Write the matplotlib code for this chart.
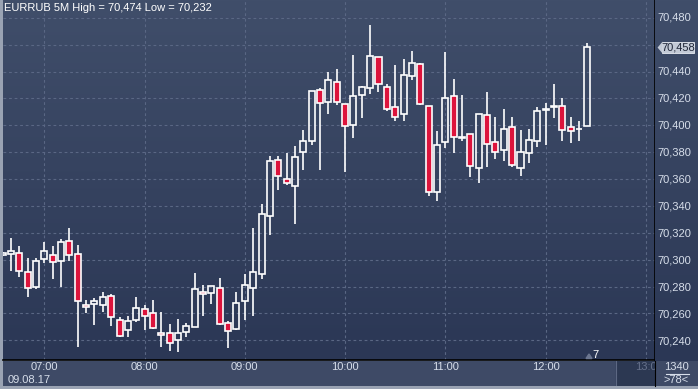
"""
EURRUB 5M candlestick chart, dark terminal style.
"""
import numpy as np
import matplotlib
matplotlib.use("Agg")
import matplotlib.pyplot as plt
from matplotlib.patches import Rectangle, Polygon

plt.rcParams["font.family"] = ["Liberation Sans", "DejaVu Sans"]

# ---------- Data (5 minute candles, 06:35 .. 12:25) ----------
opens = [70.3035, 70.3041, 70.3048, 70.2907, 70.2799, 70.3003, 70.3033, 70.2989, 70.3138, 70.3041,
         70.2665, 70.2668, 70.2665, 70.2728, 70.2549, 70.2479, 70.2549, 70.2631, 70.2601, 70.2452,
         70.2457, 70.2400, 70.2460, 70.2497, 70.2758, 70.2750, 70.2787, 70.2527, 70.2486, 70.2691,
         70.2787, 70.2892, 70.3324, 70.3741, 70.3599, 70.3552, 70.3798, 70.3887, 70.4263, 70.4170,
         70.4322, 70.4158, 70.3999, 70.4225, 70.4277, 70.4508, 70.4285, 70.4136, 70.4084, 70.4367,
         70.4456, 70.4143, 70.3500, 70.3875, 70.4215, 70.3902, 70.3935, 70.3681, 70.4076, 70.3875,
         70.3816, 70.3987, 70.3681, 70.3793, 70.3883, 70.4114, 70.4133, 70.4143, 70.3987, 70.3972,
         70.3994]
highs = [70.3055, 70.3164, 70.3103, 70.3011, 70.3011, 70.3132, 70.3103, 70.3152, 70.3237, 70.3110,
         70.2700, 70.2713, 70.2760, 70.2743, 70.2571, 70.2583, 70.2723, 70.2661, 70.2700, 70.2611,
         70.2519, 70.2556, 70.2527, 70.2901, 70.2812, 70.2802, 70.2864, 70.2542, 70.2758, 70.2894,
         70.3237, 70.3415, 70.3773, 70.3773, 70.3795, 70.3845, 70.3967, 70.4255, 70.4280, 70.4399,
         70.4421, 70.4158, 70.4523, 70.4292, 70.4749, 70.4508, 70.4307, 70.4449, 70.4493, 70.4553,
         70.4464, 70.4143, 70.3957, 70.4546, 70.4344, 70.4227, 70.3935, 70.4084, 70.4250, 70.4061,
         70.4121, 70.4061, 70.3967, 70.3972, 70.4136, 70.4166, 70.4309, 70.4203, 70.4061, 70.4032,
         70.4613]
lows = [70.3030, 70.2919, 70.2874, 70.2725, 70.2780, 70.2974, 70.2859, 70.2799, 70.2989, 70.2352,
        70.2606, 70.2516, 70.2613, 70.2509, 70.2427, 70.2427, 70.2539, 70.2477, 70.2486, 70.2352,
        70.2323, 70.2315, 70.2427, 70.2497, 70.2583, 70.2673, 70.2512, 70.2345, 70.2479, 70.2553,
        70.2583, 70.2859, 70.3187, 70.3522, 70.3559, 70.3269, 70.3669, 70.3850, 70.3671, 70.4081,
        70.4155, 70.3649, 70.3909, 70.4058, 70.4230, 70.4248, 70.4106, 70.4032, 70.4032, 70.4337,
        70.4151, 70.3477, 70.3440, 70.3830, 70.3793, 70.3880, 70.3619, 70.3567, 70.3693, 70.3753,
        70.3738, 70.3693, 70.3626, 70.3723, 70.3842, 70.3857, 70.4051, 70.3887, 70.3872, 70.3887,
        70.3994]
closes = [70.3053, 70.3065, 70.2919, 70.2787, 70.2989, 70.3063, 70.2981, 70.3130, 70.3033, 70.2691,
          70.2646, 70.2691, 70.2720, 70.2571, 70.2434, 70.2542, 70.2638, 70.2583, 70.2494, 70.2437,
          70.2382, 70.2452, 70.2509, 70.2780, 70.2743, 70.2802, 70.2519, 70.2467, 70.2676, 70.2810,
          70.2909, 70.3339, 70.3734, 70.3622, 70.3570, 70.3763, 70.3883, 70.4255, 70.4163, 70.4337,
          70.4170, 70.3994, 70.4218, 70.4285, 70.4516, 70.4307, 70.4121, 70.4061, 70.4374, 70.4464,
          70.4158, 70.3507, 70.3853, 70.4203, 70.3912, 70.3912, 70.3696, 70.4084, 70.3860, 70.3801,
          70.3972, 70.3704, 70.3801, 70.3890, 70.4106, 70.4121, 70.4143, 70.3965, 70.3957, 70.3975,
          70.4583]

hour_labels = ["07:00", "08:00", "09:00", "10:00", "11:00", "12:00"]
hour_index = [5, 17, 29, 41, 53, 65]
price_ticks = [70.240, 70.260, 70.280, 70.300, 70.320, 70.340, 70.360,
               70.380, 70.400, 70.420, 70.440, 70.480]
title = "EURRUB 5M High = 70,474 Low = 70,232"
last_price = 70.458

# ---------- Layout helpers ----------
W, H = 698, 389
fig = plt.figure(figsize=(W / 100, H / 100), dpi=100)
fig.patch.set_facecolor("#9aa3b3")


def px(l, t, r, b):
    return [l / W, 1 - b / H, (r - l) / W, (b - t) / H]


BG_TOP = np.array([64, 78, 106]) / 255
BG_BOT = np.array([43, 55, 85]) / 255
GRID = "#5a6784"
TXT = "#d7deea"


def gradient(ax):
    g = np.linspace(0, 1, 256)[:, None, None]
    img = BG_TOP * (1 - g) + BG_BOT * g
    ax.imshow(img, extent=[0, 1, 0, 1], transform=ax.transAxes, aspect="auto",
              zorder=0, interpolation="bilinear")


# ---------- Main price panel ----------
ax = fig.add_axes(px(3, 0, 655, 360))
gradient(ax)
ax.set_xlim(0.05, 78.1)
ax.set_ylim(70.2253, 70.4933)
for s in ax.spines.values():
    s.set_visible(False)
for side in ("right", "bottom"):
    ax.spines[side].set_visible(True)
    ax.spines[side].set_color("#000000")
    ax.spines[side].set_linewidth(1.2)
ax.set_xticks([])
ax.set_yticks([])

for t in price_ticks + [70.460]:
    ax.axhline(t, color=GRID, lw=0.8, ls=(0, (2.5, 2.5)), zorder=1)
for i in hour_index + [77]:
    ax.axvline(i, color=GRID, lw=0.8, ls=(0, (2.5, 2.5)), zorder=1)

bw = 0.72
for i, (o, h, l, c) in enumerate(zip(opens, highs, lows, closes)):
    top, bot = max(o, c), min(o, c)
    ax.vlines(i, top, h, color="white", lw=1.2, zorder=3)
    ax.vlines(i, l, bot, color="white", lw=1.2, zorder=3)
    face = "#dc143c" if c < o else "none"
    ax.bar(i, top - bot, bottom=bot, width=bw, facecolor=face, edgecolor="white",
           linewidth=1.2, zorder=4)

ax.text(0.002, 0.978, title, transform=ax.transAxes, color="white", fontsize=8,
        ha="left", va="center", zorder=6)
ax.text(592.5 / 652, 1 - 355 / 360, "7", transform=ax.transAxes, color="white",
        fontsize=8, ha="center", va="center", zorder=6)
ax.add_patch(Polygon([[583 / 652, 1 - 358.5 / 360], [589 / 652, 1 - 358.5 / 360],
                      [586 / 652, 1 - 354 / 360]], closed=True, transform=ax.transAxes,
                     color="#6b7690", zorder=6))

# ---------- Right price scale ----------
ay = fig.add_axes(px(655, 0, 698, 361), sharey=ax)
gradient(ay)
ay.set_xlim(0, 1)
for s in ay.spines.values():
    s.set_visible(False)
ay.set_xticks([])
ay.tick_params(left=False, right=False, labelleft=False)
for t in price_ticks:
    ay.text(0.05, t, f"{t:.3f}".replace(".", ","), color=TXT, fontsize=8,
            ha="left", va="center")
ay.add_patch(Rectangle((0.17, last_price - 0.0044), 0.74, 0.0088,
                       facecolor="#c3cad6", edgecolor="#e8ecf2", lw=0.6, zorder=5))
ay.add_patch(Polygon([[0.06, last_price], [0.175, last_price + 0.0044],
                      [0.175, last_price - 0.0044]], closed=True, facecolor="#c3cad6",
                     edgecolor="none", zorder=5))
ay.text(0.54, last_price, f"{last_price:.3f}".replace(".", ","), color="#1f2638",
        fontsize=8, ha="center", va="center", zorder=6)

# ---------- Time axis ----------
ax_t = fig.add_axes(px(3, 361, 655, 386))
ax_t.set_facecolor("#3e4a66")
ax_t.set_xlim(ax.get_xlim())
ax_t.set_ylim(0, 1)
for s in ax_t.spines.values():
    s.set_visible(False)
ax_t.set_xticks([])
ax_t.set_yticks([])
for i, lab in zip(hour_index, hour_labels):
    ax_t.text(i, 0.74, lab, color=TXT, fontsize=8, ha="center", va="center")
ax_t.text(3.2, 0.25, "09.08.17", color=TXT, fontsize=8, ha="center", va="center")
ax_t.axvspan(73.4, 78.1, color="#2c3852", zorder=1)
ax_t.axvline(73.4, color="#5d6883", lw=0.8, zorder=2)
ax_t.text(77, 0.74, "13:0", color="#66718b", fontsize=8, ha="center", va="center",
          zorder=3, clip_on=True)

ax_c = fig.add_axes(px(655, 361, 698, 386))
ax_c.set_facecolor("#3e4a66")
for s in ax_c.spines.values():
    s.set_visible(False)
ax_c.spines["left"].set_visible(True)
ax_c.spines["left"].set_color("#000000")
ax_c.set_xticks([])
ax_c.set_yticks([])
ax_c.set_xlim(0, 1)
ax_c.set_ylim(0, 1)
ax_c.text(0.5, 0.74, "1340", color=TXT, fontsize=8, ha="center", va="center")
ax_c.plot([0.25, 0.78], [0.49, 0.49], color=TXT, lw=0.8)
ax_c.text(0.5, 0.23, ">78<", color=TXT, fontsize=8, ha="center", va="center")

fig.savefig("out.png", dpi=100, facecolor=fig.get_facecolor())
